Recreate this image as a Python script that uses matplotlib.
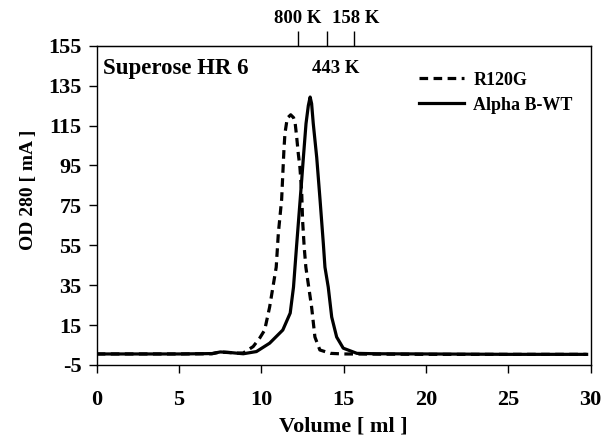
import matplotlib.pyplot as plt

plt.rcParams['font.family'] = ['Liberation Serif', 'DejaVu Serif']
plt.rcParams['font.weight'] = 'bold'
plt.rcParams['axes.unicode_minus'] = False

vol_r120g = [0, 5, 7.0, 7.5, 8.0, 8.5, 8.9, 9.5, 9.9, 10.2, 10.5, 10.9, 11.03,
             11.23, 11.33, 11.37, 11.43, 11.57, 11.78, 11.95, 12.04, 12.14, 12.24,
             12.34, 12.45, 12.5, 12.6, 12.7, 13.05, 13.25, 13.55, 14.2, 15, 20, 25, 29.75]
od_r120g = [0.5, 0.5, 0.6, 1.5, 1.2, 0.9, 1.0, 4.2, 8.5, 12.5, 24, 44, 61,
            78, 96, 103, 111, 118.7, 120.4, 119, 117, 109.5, 101,
            94, 81, 67.7, 54, 44, 24, 9, 2.5, 0.8, 0.5, 0.3, 0.3, 0.3]

vol_wt = [0, 5, 7.0, 7.5, 8.0, 8.5, 8.9, 9.7, 10.5, 11.3, 11.75, 11.95, 12.04,
          12.14, 12.3, 12.45, 12.55, 12.71, 12.85, 12.96, 13.05, 13.15, 13.36,
          13.56, 13.76, 13.86, 14.06, 14.27, 14.57, 14.97, 15.8, 17, 20, 25, 29.75]
od_wt = [0.5, 0.5, 0.7, 1.5, 1.3, 0.9, 0.6, 1.7, 5.9, 12.5, 21, 34, 44,
         55, 72, 88, 99, 116, 125, 129.3, 126, 116, 99,
         78, 56, 44, 34, 19, 9, 3.4, 0.8, 0.6, 0.5, 0.3, 0.3]

marker_pos = [12.2, 14.0, 15.6]
marker_lab = ['800 K', '443 K', '158 K']
yticks = [-5, 15, 35, 55, 75, 95, 115, 135, 155]
xticks = [0, 5, 10, 15, 20, 25, 30]

fig = plt.figure(figsize=(6.16, 4.36), dpi=100)
ax = fig.add_axes([0.157, 0.163, 0.802, 0.732])

ax.plot(vol_r120g, od_r120g, color='black', linestyle=(0, (2.7, 1.7)), linewidth=2.3, label='R120G')
ax.plot(vol_wt, od_wt, color='black', linestyle='solid', linewidth=2.3, label='Alpha B-WT')

ax.set_xlim(0, 30)
ax.set_ylim(-5, 155)
ax.set_xticks(xticks)
ax.set_yticks(yticks)
ax.tick_params(direction='out', length=6, width=1, labelsize=16, pad=5)
ax.tick_params(axis='x', pad=12)
for s in ax.spines.values():
    s.set_linewidth(1)

ax.set_xlabel('Volume [ ml ]', fontsize=16, fontweight='bold', labelpad=5)
ax.set_ylabel('OD 280 [ mA ]', fontsize=14, fontweight='bold')
ax.yaxis.set_label_coords(-0.12, 0.55)

# Marqueurs de poids moléculaire en haut
top = ax.secondary_xaxis('top')
top.set_xticks(marker_pos)
top.set_xticklabels([])
top.tick_params(direction='out', length=11, width=1)
ax.text(marker_pos[0], 1.06, marker_lab[0], transform=ax.get_xaxis_transform(),
        ha='center', va='bottom', fontsize=13.5, fontweight='bold')
ax.text(15.7, 1.06, marker_lab[2], transform=ax.get_xaxis_transform(),
        ha='center', va='bottom', fontsize=13.5, fontweight='bold')
ax.text(14.5, 0.93, marker_lab[1], transform=ax.get_xaxis_transform(),
        ha='center', va='center', fontsize=13.5, fontweight='bold')

ax.text(0.013, 0.93, 'Superose HR 6', transform=ax.transAxes,
        ha='left', va='center', fontsize=16.5, fontweight='bold')

ax.legend(loc='upper left', bbox_to_anchor=(0.62, 0.97), frameon=False,
          fontsize=13, handlelength=2.5, handletextpad=0.5, labelspacing=0.45)

plt.savefig('out.png', dpi=100)
